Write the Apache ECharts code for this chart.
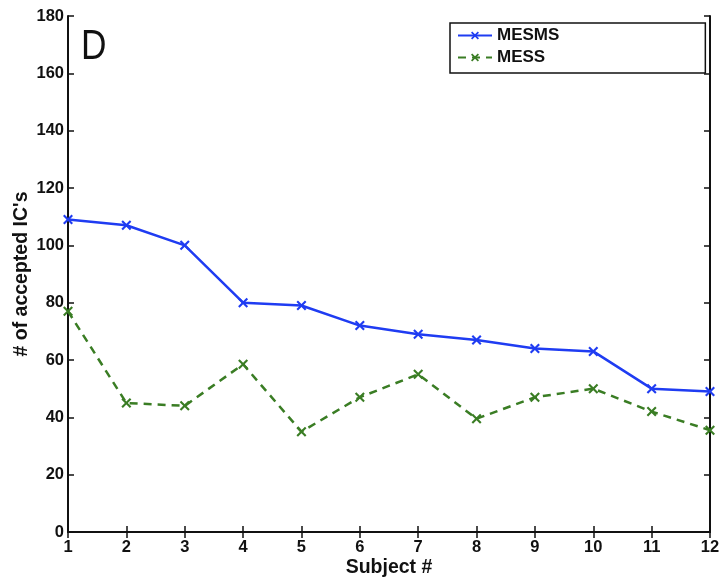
<!DOCTYPE html>
<html><head><meta charset="utf-8">
<script src="https://cdn.jsdelivr.net/npm/echarts@6/dist/echarts.min.js"></script>
<style>html,body{margin:0;padding:0;background:#fff}#c{width:721px;height:577px}</style>
</head><body><div id="c"></div>
<script>
const subjects = [1,2,3,4,5,6,7,8,9,10,11,12];
const mesms = [109,107,100,80,79,72,69,67,64,63,50,49];
const mess  = [77,45,44,58.5,35,47,55,39.5,47,50,42,35.5];
const seriesNames = ['MESMS','MESS'];
const yTicks = {min:0, max:180, interval:20};

const xSym = 'path://M0,1.5L1.5,0L5,3.5L8.5,0L10,1.5L6.5,5L10,8.5L8.5,10L5,6.5L1.5,10L0,8.5L3.5,5Z';
const font = 'Liberation Sans, Arial, Helvetica, sans-serif';
const chart = echarts.init(document.getElementById('c'), null, {renderer:'canvas'});
const axisLine = {lineStyle:{color:'#111', width:2}};
const tick = {inside:true, length:6, lineStyle:{color:'#111', width:1.5}};
const lbl = {fontFamily:font, fontWeight:'bold', fontSize:16.5, color:'#111'};
const nameStyle = {fontFamily:font, fontWeight:'bold', fontSize:19.5, color:'#111'};
chart.setOption({
  animation:false,
  backgroundColor:'#fff',
  grid:{left:68, right:11, top:16, bottom:45, containLabel:false, outerBoundsMode:'none'},
  legend:{
    left:450, top:23, orient:'vertical',
    padding:[4,146,7,7], itemGap:5,
    borderColor:'#111', borderWidth:1.5,
    itemWidth:34, itemHeight:10,
    textStyle:{fontFamily:font, fontWeight:'bold', fontSize:17, color:'#111'},
    data:seriesNames
  },
  xAxis:[{
    type:'value', min:1, max:12, interval:1,
    name:'Subject #', nameLocation:'middle', nameGap:26, nameMoveOverlap:false,
    nameTextStyle:nameStyle,
    axisLine:axisLine, axisTick:tick,
    axisLabel:Object.assign({margin:7}, lbl),
    splitLine:{show:false}
  },{
    type:'value', position:'top', min:1, max:12, interval:1,
    axisLine:axisLine, axisTick:tick,
    axisLabel:{show:false}, splitLine:{show:false}
  }],
  yAxis:[{
    type:'value', min:yTicks.min, max:yTicks.max, interval:yTicks.interval,
    name:"# of accepted IC's", nameLocation:'middle', nameGap:36, nameMoveOverlap:false,
    nameTextStyle:nameStyle,
    axisLine:axisLine, axisTick:tick,
    axisLabel:Object.assign({margin:4}, lbl),
    splitLine:{show:false}
  },{
    type:'value', position:'right', min:yTicks.min, max:yTicks.max, interval:yTicks.interval,
    axisLine:axisLine, axisTick:tick,
    axisLabel:{show:false}, splitLine:{show:false}
  }],
  graphic:[{type:'text', x:81, y:26, scaleX:0.82, style:{text:'D', font:'43px '+font, fill:'#111'}}],
  series:[{
    name:'MESMS', type:'line', data:subjects.map((s,i)=>[s,mesms[i]]),
    symbol:xSym, symbolSize:10, color:'#1f3cf2',
    lineStyle:{width:2.5, color:'#1f3cf2'}, itemStyle:{color:'#1f3cf2'}
  },{
    name:'MESS', type:'line', data:subjects.map((s,i)=>[s,mess[i]]),
    symbol:xSym, symbolSize:10, color:'#3a7d24',
    lineStyle:{width:2.5, color:'#3a7d24', type:[8,6]}, itemStyle:{color:'#3a7d24'}
  }]
});
</script></body></html>
